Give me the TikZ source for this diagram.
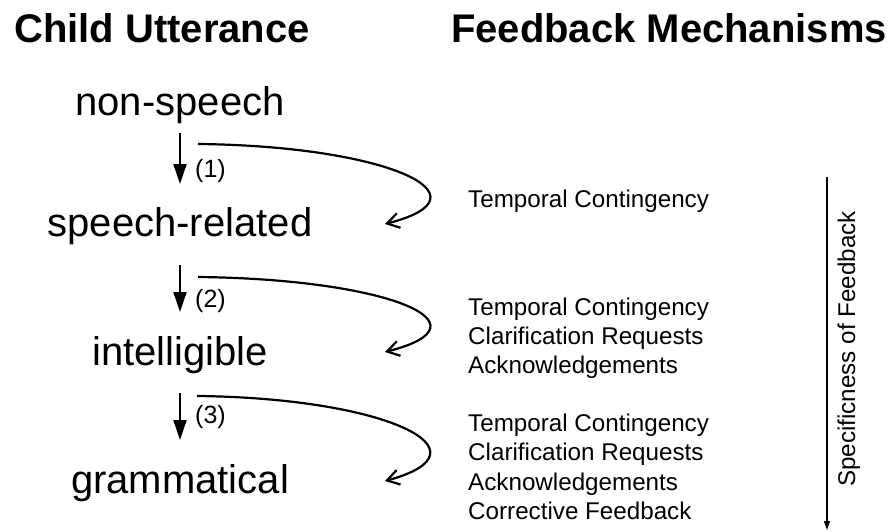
\documentclass[tikz,border=0pt]{standalone}
\usepackage{fontspec}
\setmainfont{Liberation Sans}
\usetikzlibrary{arrows.meta}
\begin{document}
\begin{tikzpicture}[x=1pt,y=-1pt,
  title/.style={font=\fontsize{40}{48}\selectfont\bfseries, anchor=base, inner sep=0pt},
  stage/.style={font=\fontsize{40}{48}\selectfont, anchor=base, inner sep=0pt},
  mech/.style={font=\fontsize{24.2}{29}\selectfont, anchor=base west, inner sep=0pt},
  lbl/.style={font=\fontsize{25}{30}\selectfont, anchor=base west, inner sep=0pt},
  varrow/.style={line width=2pt, -{Triangle[length=20pt,width=13pt]}},
  farrow/.style={line width=2.2pt, -{Straight Barb[length=12pt,width=15pt]}},
  sarrow/.style={line width=1.3pt, -{Triangle[length=9pt,width=6pt]}}]
\useasboundingbox (0,0) rectangle (893,532);

% titles
\node[title] (t1) at (162,43) {Child Utterance};
\node[title] (t2) at (669,43) {Feedback Mechanisms};

% stages
\node[stage] (ns) at (180,115) {non-speech};
\node[stage] (sr) at (180,236) {speech-related};
\node[stage] (ig) at (180,365) {intelligible};
\node[stage] (gr) at (180,493) {grammatical};

% step labels
\node[lbl] (l1) at (195,177) {(1)};
\node[lbl] (l2) at (195,307) {(2)};
\node[lbl] (l3) at (195,423) {(3)};

% vertical step arrows
\draw[varrow] ([yshift=-18pt]ns.base) -- ([yshift=52pt]sr.base);
\draw[varrow] ([yshift=-29pt]sr.base) -- ([yshift=53pt]ig.base);
\draw[varrow] ([yshift=-28pt]ig.base) -- ([yshift=53pt]gr.base);

% feedback mechanisms
\node[mech] (m1a) at (468,207) {Temporal Contingency};

\node[mech] (m2a) at (468,315) {Temporal Contingency};
\node[mech] (m2b) at (468,344) {Clarification Requests};
\node[mech] (m2c) at (468,373) {Acknowledgements};

\node[mech] (m3a) at (468,431) {Temporal Contingency};
\node[mech] (m3b) at (468,460) {Clarification Requests};
\node[mech] (m3c) at (468,490) {Acknowledgements};
\node[mech] (m3d) at (468,519) {Corrective Feedback};

% feedback curves
\coordinate (f1s) at (198,144);
\coordinate (f1e) at (385,224);
\coordinate (f2s) at (198,277);
\coordinate (f2e) at (385,352);
\coordinate (f3s) at (197,396);
\coordinate (f3e) at (385,481);
\draw[farrow] (f1s) .. controls +(190,2) and +(110,-28) .. (f1e);
\draw[farrow] (f2s) .. controls +(190,2) and +(110,-28) .. (f2e);
\draw[farrow] (f3s) .. controls +(190,2) and +(110,-30) .. (f3e);

% specificness axis
\coordinate (s1) at (827,177);
\coordinate (s2) at (827,530);
\draw[sarrow] (s1) -- (s2);
\node[mech, rotate=90, anchor=base] (spec) at (855,349) {Specificness of Feedback};
\end{tikzpicture}
\end{document}
